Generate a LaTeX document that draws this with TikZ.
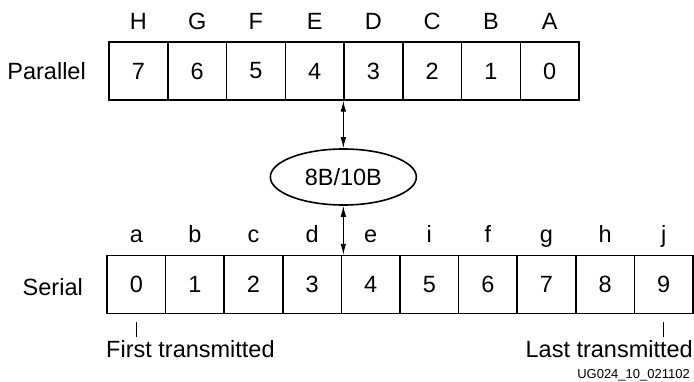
\documentclass[tikz,border=0pt]{standalone}
\usepackage{fontspec}
\setmainfont{Liberation Sans}
\usepackage{tikz}
\usetikzlibrary{positioning,arrows.meta,shapes.geometric}

\begin{document}
\begin{tikzpicture}[x=1pt,y=1pt,
          cell/.style={draw,line width=1.4pt,minimum width=58.7pt,minimum height=58pt,inner sep=0pt,font=\fontsize{23.5}{26}\selectfont},
          lab/.style={inner sep=0pt,font=\fontsize{23.5}{26}\selectfont},
          conv/.style={ellipse,draw,line width=1.6pt,minimum width=146pt,minimum height=56pt,inner sep=0pt,font=\fontsize{23.5}{26}\selectfont},
          dbl/.style={{Latex[length=11pt,width=5.5pt]}-{Latex[length=11pt,width=5.5pt]},line width=0.9pt},
          tick/.style={line width=0.9pt}
        ]
        \useasboundingbox (0,0) rectangle (694,381);
        % parallel byte
        \foreach \d/\l [count=\k from 0] in {7/H,6/G,5/F,4/E,3/D,2/C,1/B,0/A}{
          \node[cell] (par\d) at (109+58.75*\k+29.4,310) {\d};
          \node[lab,anchor=base] (pl\d) at ([yshift=12pt]par\d.north) {\l};
        }
        \node[lab,anchor=east] (plab) at (86,310) {Parallel};
        % serial word
        \foreach \d/\l in {0/a,1/b,2/c,3/d,4/e,5/i,6/f,7/g,8/h,9/j}{
          \node[cell] (ser\d) at (107+58.6*\d+29.3,96.5) {\d};
          \node[lab,anchor=base] (sl\d) at ([yshift=12pt]ser\d.north) {\l};
        }
        \node[lab,anchor=east] (slab) at (83,94) {Serial};
        % encoder
        \node[conv] (enc) at (par3.south west |- 0,204) {8B/10B};
        \draw[dbl] (par3.south west) -- (enc);
        \draw[dbl] (enc) -- (enc |- ser4.north);
        % first / last
        \node[lab,anchor=base west] (first) at (106,24) {First transmitted};
        \node[lab,anchor=base east] (last) at (693,24) {Last transmitted};
        \draw[tick] ([yshift=-8pt]ser0.south) -- ([yshift=-23pt]ser0.south);
        \draw[tick] ([yshift=-8pt]ser9.south) -- ([yshift=-23pt]ser9.south);
        \node[lab,anchor=base east,font=\fontsize{13}{15}\selectfont] (tag) at (690,2.5) {UG024\_10\_021102};
      \end{tikzpicture}
\end{document}
